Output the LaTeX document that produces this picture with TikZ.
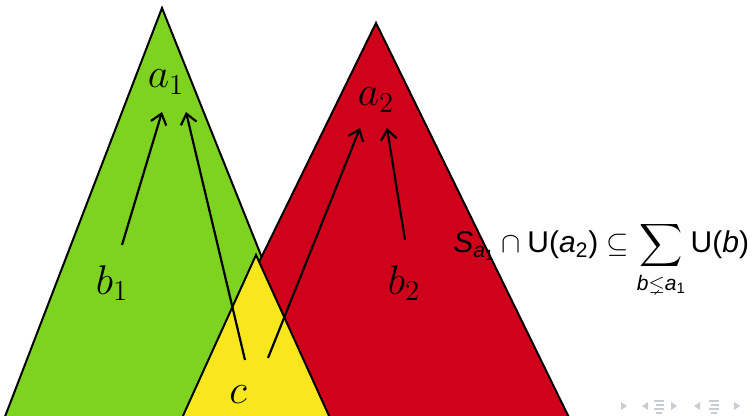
\documentclass[tikz,border=0pt]{standalone}
\usepackage{amsmath,amssymb}
\usepackage{fontspec}
\setsansfont{Liberation Sans}
\usepackage{tikz}
\usetikzlibrary{arrows.meta, positioning, calc}
\definecolor{TriGreen}{RGB}{126, 211, 33}
\definecolor{TriRed}{RGB}{208, 2, 27}
\definecolor{TriYellow}{RGB}{248, 231, 28}
\definecolor{NavGray}{RGB}{200, 204, 212}
\newcommand{\sv}[1]{\text{\sffamily\itshape #1}}
\newcommand{\sr}[1]{\text{\sffamily #1}}
\tikzset{
  tri/.style={draw=black, line width=1pt, line join=miter},
  lbl/.style={font=\fontsize{22}{26}\selectfont, inner sep=1pt},
  up/.style={-{Straight Barb[length=5pt, width=8pt]}, line width=1.1pt},
  nav/.style={fill=NavGray, draw=none}
}
\begin{document}
\begin{tikzpicture}[x=0.5pt, y=-0.5pt]
        \useasboundingbox (0,0) rectangle (754,416);
        \clip (0,0) rectangle (754,416);

        % Triangles
        \filldraw[tri, fill=TriGreen] (162,8) -- (-4,440) -- (335,440) -- cycle;
        \filldraw[tri, fill=TriRed] (376,23) -- (172,440) -- (580,440) -- cycle;
        \filldraw[tri, fill=TriYellow] (256,255) -- (172,440) -- (340,440) -- cycle;

        % Labels
        \node[lbl] (a1) at (166,82) {$a_1$};
        \node[lbl] (b1) at (112,283) {$b_1$};
        \node[lbl] (a2) at (376,100) {$a_2$};
        \node[lbl] (b2) at (404,283) {$b_2$};
        \node[lbl] (c) at (238,395) {$c$};

        % Arrow ends
        \coordinate (b1-t) at (122,245);
        \coordinate (b2-t) at (405,240);
        \coordinate (c-l) at (245,360);
        \coordinate (c-r) at (268,358);
        \coordinate (a1-l) at (162,112);
        \coordinate (a1-r) at (186,112);
        \coordinate (a2-l) at (360,128);
        \coordinate (a2-r) at (387,128);

        % Arrows
        \draw[up] (b1-t) -- (a1-l);
        \draw[up] (c-l) -- (a1-r);
        \draw[up] (c-r) -- (a2-l);
        \draw[up] (b2-t) -- (a2-r);

        % Formula
        \node[anchor=base west, inner sep=0pt, font=\fontsize{15}{18}\selectfont] (eq) at (453,253)
          {$\displaystyle \sv{S}_{\sv{a}_{\sr{1}}} \cap \sr{U}\sr{(}\sv{a}_{\sr{2}}\sr{)} \subseteq
            \sum_{\sv{b}\lneq\sv{a}_{\sr{1}}} \sr{U}\sr{(}\sv{b}\sr{)}$};

        % Navigation
        \foreach \x in {624, 674, 737} {
            \fill[nav] (\x-3,402) -- (\x+3,406) -- (\x-3,410) -- cycle;
        }
        \foreach \x in {645, 697} {
            \fill[nav] (\x+3,402) -- (\x-3,406) -- (\x+3,410) -- cycle;
        }
        \foreach \x in {659, 714} {
            \fill[nav] (\x-5,400) rectangle (\x+5,401.5);
            \fill[nav] (\x-3,404) rectangle (\x+5,405.5);
            \fill[nav] (\x-5,408) rectangle (\x+5,409.5);
            \fill[nav] (\x-3,412) rectangle (\x+3,413.5);
        }
\end{tikzpicture}
\end{document}
